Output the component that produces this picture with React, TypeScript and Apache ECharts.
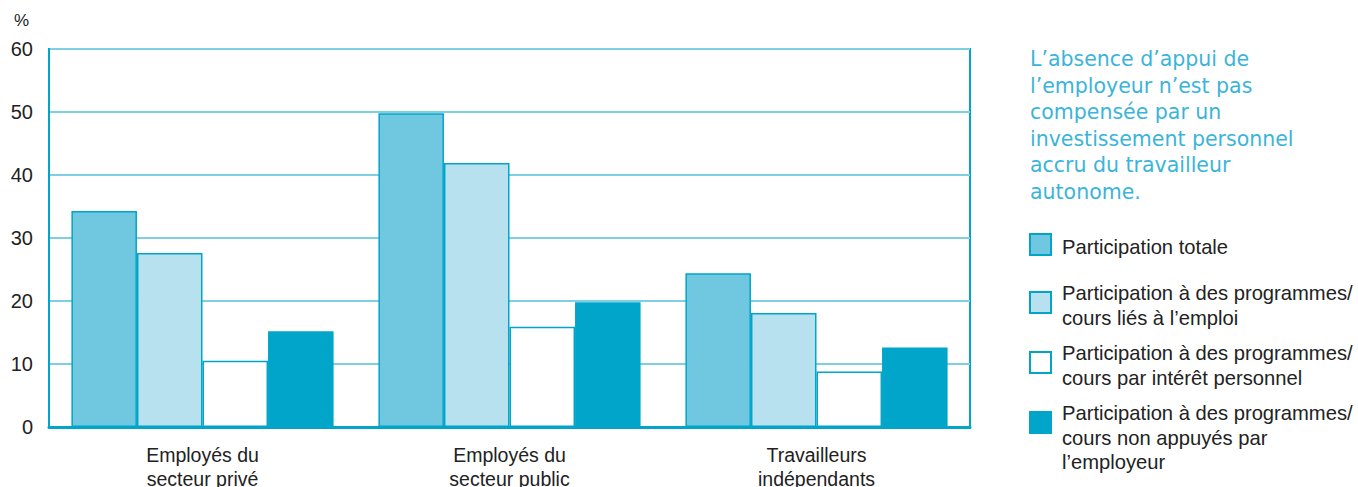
import React, { useEffect, useRef } from "react";
import * as echarts from "echarts";

const categories = ["Employés du\nsecteur privé", "Employés du\nsecteur public", "Travailleurs\nindépendants"];
const seriesNames = [
  "Participation totale",
  "Participation à des programmes/cours liés à l’emploi",
  "Participation à des programmes/cours par intérêt personnel",
  "Participation à des programmes/cours non appuyés par l’employeur",
];
const legendLabels = [
  "Participation totale",
  "Participation à des programmes/\ncours liés à l’emploi",
  "Participation à des programmes/\ncours par intérêt personnel",
  "Participation à des programmes/\ncours non appuyés par\nl’employeur",
];
const totalParticipation = [34.3, 49.8, 24.4];
const jobRelated = [27.6, 41.9, 18.1];
const personalInterest = [10.5, 15.9, 8.8];
const notSupported = [15.2, 19.8, 12.6];
const seriesValues = [totalParticipation, jobRelated, personalInterest, notSupported];
const unitLabel = "%";
const noteLines = [
  "L’absence d’appui de",
  "l’employeur n’est pas",
  "compensée par un",
  "investissement personnel",
  "accru du travailleur",
  "autonome.",
];

const BLUE = "#00a5c9";
const fills = ["#6fc8e0", "#b7e1ee", "#ffffff", BLUE];
const FONT = "'Liberation Sans', Arial, sans-serif";
const TEXT = "#222222";

export default function App() {
  const ref = useRef<HTMLDivElement>(null);
  useEffect(() => {
    document.body.style.margin = "0";
    const chart = echarts.init(ref.current!, null, { renderer: "svg" });

    const legendTextTops = [235, 281, 341, 401];
    const legendSquareTops = [234, 292, 352, 412];
    const legendGraphics: any[] = [];
    legendLabels.forEach((lbl, i) => {
      legendGraphics.push({
        type: "rect",
        shape: { x: 1030, y: legendSquareTops[i], width: 21, height: 21 },
        style: { fill: fills[i], stroke: BLUE, lineWidth: 2 },
      });
      legendGraphics.push({
        type: "text",
        x: 1062,
        y: legendTextTops[i],
        style: {
          text: lbl,
          font: `20.2px ${FONT}`,
          fill: TEXT,
          lineHeight: 24.5,
          verticalAlign: "top",
        },
      });
    });

    chart.setOption({
      animation: false,
      grid: {
        left: 49,
        top: 49,
        right: 388,
        bottom: 60,
        outerBoundsMode: "none",
        containLabel: false,
        show: true,
        borderColor: BLUE,
        borderWidth: 2,
        backgroundColor: "transparent",
      },
      legend: { show: false, data: seriesNames },
      xAxis: {
        type: "category",
        data: categories,
        axisLine: { show: true, lineStyle: { color: BLUE, width: 3 } },
        axisTick: { show: false },
        axisLabel: {
          color: TEXT,
          fontFamily: FONT,
          fontSize: 19.5,
          lineHeight: 24,
          margin: 16,
        },
      },
      yAxis: {
        type: "value",
        min: 0,
        max: 60,
        interval: 10,
        axisLine: { show: true, lineStyle: { color: BLUE, width: 2 } },
        axisTick: { show: false },
        splitLine: { show: true, lineStyle: { color: "#7fcfe3", width: 1.8 } },
        axisLabel: {
          color: TEXT,
          fontFamily: FONT,
          fontSize: 20,
          margin: 16,
          padding: [7, 0, 0, 0],
        },
      },
      series: seriesNames.map((name, i) => ({
        name,
        type: "bar",
        data: seriesValues[i],
        barGap: "0%",
        barCategoryGap: "14.6%",
        itemStyle: {
          color: fills[i],
          borderColor: BLUE,
          borderWidth: i === 3 ? 0 : 1.5,
        },
      })),
      graphic: [
        {
          type: "text",
          x: 14,
          y: 12,
          style: { text: unitLabel, font: `17px ${FONT}`, fill: TEXT },
        },
        {
          type: "text",
          x: 1030,
          y: 46,
          style: {
            text: noteLines.join("\n"),
            font: `20.5px 'DejaVu Sans', sans-serif`,
            fill: "#3bb4da",
            lineHeight: 26.5,
            verticalAlign: "top",
          },
        },
        ...legendGraphics,
      ],
    });
    return () => chart.dispose();
  }, []);
  return <div ref={ref} style={{ width: 1358, height: 487 }} />;
}
